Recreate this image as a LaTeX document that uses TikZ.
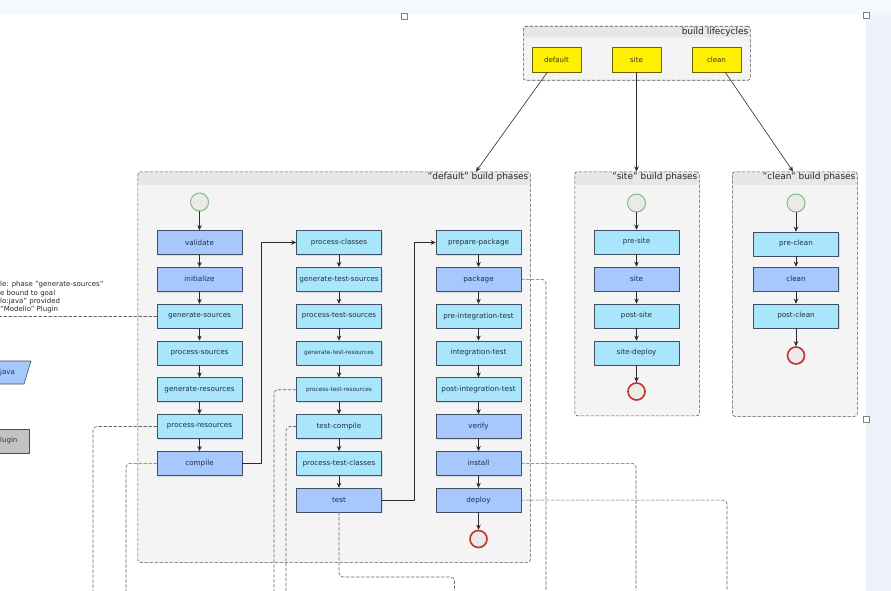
\documentclass[tikz,border=0pt]{standalone}
\usepackage{fontspec}
\setmainfont{DejaVu Sans}
\usetikzlibrary{arrows.meta, shadows}

\definecolor{screenbg}{HTML}{F5F8FD}
\definecolor{sidebg}{HTML}{EEF3FB}
\definecolor{phaselight}{HTML}{A9E6FC}
\definecolor{phasedark}{HTML}{A7C8FD}
\definecolor{phaseline}{HTML}{3F5063}
\definecolor{phasetext}{HTML}{1F2E4A}
\definecolor{lifeyellow}{HTML}{FFEF00}
\definecolor{lifeline}{HTML}{6F6400}
\definecolor{groupfill}{HTML}{F4F4F5}
\definecolor{grouphead}{HTML}{E7E7E8}
\definecolor{groupline}{HTML}{555555}
\definecolor{startgreen}{HTML}{7DBA7D}
\definecolor{endred}{HTML}{C2332C}
\definecolor{eventfill}{HTML}{EAEAEA}
\definecolor{flowline}{HTML}{2B2B2B}
\definecolor{plugdash}{HTML}{666666}
\definecolor{pluggrey}{HTML}{C3C3C3}

\begin{document}
\begin{tikzpicture}[x=1pt, y=-1pt, >={Stealth[length=5pt, width=4.5pt]},
    line cap=round, line join=round,
    phase/.style={draw=phaseline, line width=0.6pt, fill=phaselight,
        minimum width=85pt, minimum height=24pt, inner sep=1pt,
        font=\fontsize{7.2}{8}\selectfont, text=phasetext,
        drop shadow={shadow xshift=1pt, shadow yshift=-1.2pt, opacity=0.2}},
    keyphase/.style={phase, fill=phasedark},
    tinyphase/.style={phase, font=\fontsize{5.8}{7}\selectfont},
    lifecycle/.style={draw=lifeline, line width=0.6pt, fill=lifeyellow,
        minimum width=49pt, minimum height=25pt, inner sep=1pt,
        font=\fontsize{7}{8}\selectfont, text=black!80},
    group/.style={draw=groupline, dash pattern=on 3pt off 2pt, line width=0.6pt,
        fill=groupfill, rounded corners=2.5pt, anchor=north west, inner sep=0pt,
        path picture={\fill[grouphead] (path picture bounding box.north west)
            rectangle ([yshift=-#1]path picture bounding box.north east);}},
    group/.default=13pt,
    grouplabel/.style={anchor=north east, inner sep=1pt,
        font=\fontsize{9}{10}\selectfont, text=black!85},
    startev/.style={circle, draw=startgreen, line width=0.9pt, fill=eventfill,
        minimum size=18pt, inner sep=0pt,
        drop shadow={shadow xshift=0.8pt, shadow yshift=-0.8pt, opacity=0.15}},
    endev/.style={circle, draw=endred, line width=1.6pt, fill=eventfill,
        minimum size=17pt, inner sep=0pt,
        drop shadow={shadow xshift=0.8pt, shadow yshift=-0.8pt, opacity=0.15}},
    flow/.style={->, draw=flowline, line width=0.6pt},
    plugline/.style={draw=plugdash, dash pattern=on 3pt off 2pt, line width=0.6pt,
        rounded corners=4pt},
    handle/.style={draw=gray, fill=white, minimum size=6pt, inner sep=0pt,
        line width=0.6pt},
    notetext/.style={inner sep=0pt, align=left, font=\fontsize{7}{8.3}\selectfont,
        text=black!85}
]

    % ── Canvas (screenshot margins) ──────────────────────────────────────────
    \useasboundingbox (0,0) rectangle (891,591);
    \clip (0,0) rectangle (891,591);
    \fill[white] (0,0) rectangle (891,591);
    \fill[screenbg] (0,0) rectangle (891,15.5);
    \fill[sidebg] (866,15.5) rectangle (891,591);

    % selection handles
    \node[handle] (hTop) at (404.5,16) {};
    \node[handle] (hRight) at (866,15) {};
    \node[handle] (hLow) at (866,419) {};

    % ── Groups ────────────────────────────────────────────────────────────────
    \node[group=11pt, minimum width=227pt, minimum height=54pt] (lifegrp) at (523,26) {};
    \node[grouplabel] (lifelbl) at ([xshift=-1pt]lifegrp.north east) {build lifecycles};

    \node[group, minimum width=392.5pt, minimum height=390.5pt] (defgrp) at (137.5,171.5) {};
    \node[grouplabel] (deflbl) at ([xshift=-1pt]defgrp.north east) {"default" build phases};

    \node[group, minimum width=124.5pt, minimum height=244pt] (sitegrp) at (574.5,171.5) {};
    \node[grouplabel] (sitelbl) at ([xshift=-1pt]sitegrp.north east) {"site" build phases};

    \node[group, minimum width=125pt, minimum height=244.5pt] (cleangrp) at (732,171.5) {};
    \node[grouplabel] (cleanlbl) at ([xshift=-1pt]cleangrp.north east) {"clean" build phases};

    % ── Lifecycles ────────────────────────────────────────────────────────────
    \node[lifecycle] (lcdefault) at (556.5,59.5) {default};
    \node[lifecycle] (lcsite)    at (636.5,59.5) {site};
    \node[lifecycle] (lcclean)   at (716.5,59.5) {clean};

    \coordinate (defIn)   at (476,171.5);
    \coordinate (siteIn)  at (636.5,171.5);
    \coordinate (cleanIn) at (793,171.5);
    \draw[flow] (lcdefault) -- (defIn);
    \draw[flow] (lcsite) -- (siteIn);
    \draw[flow] (lcclean) -- (cleanIn);

    % ── "default" phases ──────────────────────────────────────────────────────
    \node[startev] (dstart) at (199.5,202) {};
    \node[keyphase] (validate) at (199.5,242.5) {validate};
    \node[keyphase] (init)     at (199.5,279.3) {initialize};
    \node[phase]    (gensrc)   at (199.5,316.1) {generate-sources};
    \node[phase]    (procsrc)  at (199.5,352.9) {process-sources};
    \node[phase]    (genres)   at (199.5,389.7) {generate-resources};
    \node[phase]    (procres)  at (199.5,426.5) {process-resources};
    \node[keyphase] (compile)  at (199.5,463.3) {compile};

    \node[phase]     (proccls)  at (339,242.5) {process-classes};
    \node[phase]     (gentsrc)  at (339,279.3) {generate-test-sources};
    \node[phase]     (proctsrc) at (339,316.1) {process-test-sources};
    \node[tinyphase] (gentres)  at (339,352.9) {generate-test-resources};
    \node[tinyphase] (proctres) at (339,389.7) {process-test-resources};
    \node[phase]     (tcomp)    at (339,426.5) {test-compile};
    \node[phase]     (proctcls) at (339,463.3) {process-test-classes};
    \node[keyphase]  (test)     at (339,500.1) {test};

    \node[phase]    (prepkg)   at (478.5,242.5) {prepare-package};
    \node[keyphase] (package)  at (478.5,279.3) {package};
    \node[phase]    (preint)   at (478.5,316.1) {pre-integration-test};
    \node[phase]    (inttest)  at (478.5,352.9) {integration-test};
    \node[phase]    (postint)  at (478.5,389.7) {post-integration-test};
    \node[keyphase] (verify)   at (478.5,426.5) {verify};
    \node[keyphase] (install)  at (478.5,463.3) {install};
    \node[keyphase] (deploy)   at (478.5,500.1) {deploy};
    \node[endev]    (dend)     at (478.5,539) {};

    \draw[flow] (dstart) -- (validate);
    \draw[flow] (validate) -- (init);
    \draw[flow] (init) -- (gensrc);
    \draw[flow] (gensrc) -- (procsrc);
    \draw[flow] (procsrc) -- (genres);
    \draw[flow] (genres) -- (procres);
    \draw[flow] (procres) -- (compile);
    \draw[flow] (compile.east) -- ++(19,0) |- (proccls.west);
    \draw[flow] (proccls) -- (gentsrc);
    \draw[flow] (gentsrc) -- (proctsrc);
    \draw[flow] (proctsrc) -- (gentres);
    \draw[flow] (gentres) -- (proctres);
    \draw[flow] (proctres) -- (tcomp);
    \draw[flow] (tcomp) -- (proctcls);
    \draw[flow] (proctcls) -- (test);
    \draw[flow] (test.east) -- ++(32,0) |- (prepkg.west);
    \draw[flow] (prepkg) -- (package);
    \draw[flow] (package) -- (preint);
    \draw[flow] (preint) -- (inttest);
    \draw[flow] (inttest) -- (postint);
    \draw[flow] (postint) -- (verify);
    \draw[flow] (verify) -- (install);
    \draw[flow] (install) -- (deploy);
    \draw[flow] (deploy) -- (dend);

    % ── "site" phases ─────────────────────────────────────────────────────────
    \node[startev]  (sstart)   at (636.5,203) {};
    \node[phase]    (presite)  at (636.5,242) {pre-site};
    \node[keyphase] (site)     at (636.5,279) {site};
    \node[phase]    (postsite) at (636.5,316) {post-site};
    \node[phase]    (sitedep)  at (636.5,353) {site-deploy};
    \node[endev]    (send)     at (636.5,391.5) {};

    \draw[flow] (sstart) -- (presite);
    \draw[flow] (presite) -- (site);
    \draw[flow] (site) -- (postsite);
    \draw[flow] (postsite) -- (sitedep);
    \draw[flow] (sitedep) -- (send);

    % ── "clean" phases ────────────────────────────────────────────────────────
    \node[startev]  (cstart)    at (796,203) {};
    \node[phase]    (preclean)  at (796,244) {pre-clean};
    \node[keyphase] (clean)     at (796,279) {clean};
    \node[phase]    (postclean) at (796,316) {post-clean};
    \node[endev]    (cend)      at (796,355.5) {};

    \draw[flow] (cstart) -- (preclean);
    \draw[flow] (preclean) -- (clean);
    \draw[flow] (clean) -- (postclean);
    \draw[flow] (postclean) -- (cend);

    % ── Plugin side (cut off at the left edge) ────────────────────────────────
    \node[notetext, anchor=west] (note) at (0,297.5)
        {le: phase "generate-sources"\\e bound to goal\\lo:java" provided\\ "Modello" Plugin};

    \filldraw[fill=phasedark, draw=phaseline, line width=0.6pt]
        (-30,361) -- (31,361) -- (24,384) -- (-37,384) -- cycle;
    \node[inner sep=0pt, anchor=west, font=\fontsize{7}{8}\selectfont, text=phasetext]
        (javalbl) at (0,372.5) {java};

    \filldraw[fill=pluggrey, draw=black!70, line width=0.6pt]
        (-40,429) rectangle (29,453);
    \node[inner sep=0pt, anchor=west, font=\fontsize{7}{8}\selectfont, text=black!80]
        (pluglbl) at (0,441) {lugin};

    % ── Dashed goal bindings ──────────────────────────────────────────────────
    \coordinate (noteEnd)    at (0,316.1);
    \coordinate (prBottom)   at (93,592);
    \coordinate (cmpBottom)  at (126,592);
    \coordinate (ptrBottom)  at (274,592);
    \coordinate (tcBottom)   at (286,592);
    \coordinate (testBend)   at (454.5,577);
    \coordinate (testBottom) at (454.5,592);
    \coordinate (pkgBottom)  at (546,592);
    \coordinate (instBottom) at (636,592);
    \coordinate (depBottom)  at (727,592);

    \draw[plugline] (gensrc.west) -- (noteEnd);
    \draw[plugline] (procres.west) -| (prBottom);
    \draw[plugline] (compile.west) -| (cmpBottom);
    \draw[plugline] (proctres.west) -| (ptrBottom);
    \draw[plugline] (tcomp.west) -| (tcBottom);
    \draw[plugline] (test.south) |- (testBend) -- (testBottom);
    \draw[plugline] (package.east) -| (pkgBottom);
    \draw[plugline] (install.east) -| (instBottom);
    \draw[plugline] (deploy.east) -| (depBottom);

\end{tikzpicture}
\end{document}
